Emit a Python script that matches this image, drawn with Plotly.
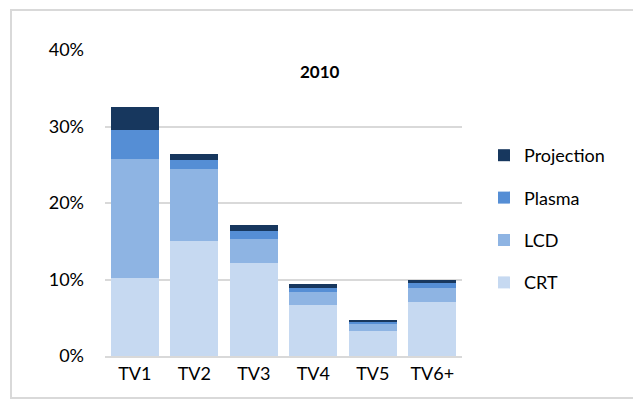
import plotly.graph_objects as go

categories = ["TV1", "TV2", "TV3", "TV4", "TV5", "TV6+"]
crt = [10.2, 15.0, 12.1, 6.7, 3.3, 7.05]
lcd = [15.5, 9.4, 3.2, 1.7, 0.9, 1.85]
plasma = [3.9, 1.2, 1.0, 0.5, 0.25, 0.6]
projection = [3.0, 0.8, 0.8, 0.45, 0.2, 0.4]
tick_vals = [0, 10, 20, 30, 40]
tick_text = ["0%", "10%", "20%", "30%", "40%"]

series = [
    ("CRT", crt, "#c6d9f1", 4),
    ("LCD", lcd, "#8eb4e3", 3),
    ("Plasma", plasma, "#558ed5", 2),
    ("Projection", projection, "#17375e", 1),
]

W, H = 641, 400
L, R, T, B = 97, 187, 42, 52
pw, ph = W - L - R, H - T - B

fig = go.Figure()
for name, vals, color, rank in series:
    fig.add_trace(go.Bar(
        x=categories, y=vals, name=name, legendgroup=name, legendrank=rank,
        marker=dict(color=color, line=dict(width=0)),
    ))

font_family = "Lato, 'Open Sans', sans-serif"
fig.update_layout(
    width=W, height=H,
    barmode="stack", bargap=0.2,
    paper_bgcolor="white", plot_bgcolor="white",
    margin=dict(l=L, r=R, t=T, b=B, autoexpand=False),
    font=dict(family=font_family, size=18, color="#000000"),
    showlegend=True,
    legend=dict(
        x=(476 - L) / pw, y=(H - B - 129) / ph, xanchor="left", yanchor="top",
        traceorder="grouped", tracegroupgap=16,
        font=dict(size=18, family=font_family),
        bgcolor="rgba(0,0,0,0)",
    ),
    xaxis=dict(
        showgrid=False, showline=True, linecolor="#d9d9d9", linewidth=2,
        ticks="", tickfont=dict(size=18),
    ),
    yaxis=dict(
        range=[0, 40], tickvals=tick_vals, ticktext=tick_text,
        showgrid=True, gridcolor="#d9d9d9", gridwidth=2,
        zeroline=False, showline=False, ticks="",
        ticklabelstandoff=20, tickfont=dict(size=18),
    ),
    annotations=[dict(
        text="<b>2010</b>", x=(312 - L) / pw, y=(H - B - 64) / ph,
        xref="paper", yref="paper", xanchor="center", yanchor="middle",
        showarrow=False, font=dict(size=17, family=font_family),
    )],
)

# outer frame
fig.add_shape(type="rect", xref="paper", yref="paper",
              x0=(3 - L) / pw, x1=(660 - L) / pw,
              y0=(H - B - 390) / ph, y1=(H - B - 2) / ph,
              line=dict(color="#d9d9d9", width=2), layer="below")

fig.write_html("out.html")
